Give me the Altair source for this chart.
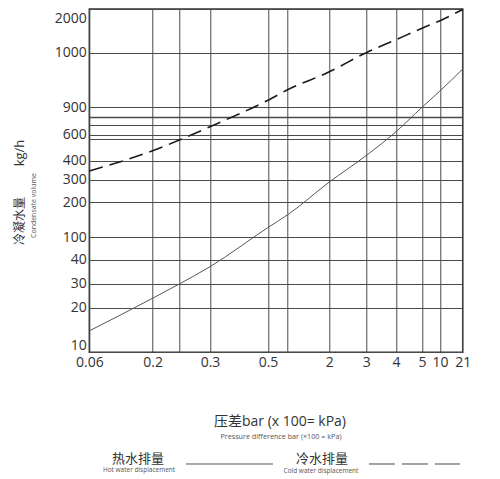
import altair as alt
import pandas as pd

# ---- data ----
x_ticks = [0.06, 0.2, 0.25, 0.3, 0.5, 1, 2, 3, 4, 5, 10, 21]
y_ticks = [10, 20, 30, 40, 100, 200, 300, 400, 500, 600, 700, 800, 900, 1000, 2000]
x_unlabeled = [0.25, 1]
y_unlabeled = [500, 700, 800]

pressure = [0.06, 0.2, 0.25, 0.3, 0.5, 1, 2, 3, 4, 5, 10, 21]
hot_water = [14.8, 24.0, 30, 37.2, 128, 164, 290, 424, 629, 900, 930, 970]
cold_water = [346, 446, 495, 682, 913, 932, 965, 1001, 1298, 1559, 1733, 1990]

# ---- piecewise scale layout (pixel positions of grid lines in the plot area) ----
X_RANGE = [0, 63.4, 90.0, 120.7, 178.7, 198.2, 240.0, 277.0, 306.7, 332.7, 350.7, 373.4]
Y_RANGE = [343.3, 298.7, 275.0, 251.0, 228.3, 193.3, 170.8, 151.7, 130.0, 125.5,
           116.0, 107.7, 98.3, 43.7, 0]
W, H = 373.4, 343.3

LATIN = "Open Sans"
CJK = "Noto Sans CJK SC"

df = pd.DataFrame({
    "p": pressure * 2,
    "q": hot_water + cold_water,
    "s": ["hot"] * len(pressure) + ["cold"] * len(pressure),
})

x_unl = ",".join(str(v) for v in x_unlabeled)
y_unl = ",".join(str(v) for v in y_unlabeled)

x_enc = alt.X(
    "p:Q",
    scale=alt.Scale(type="linear", domain=x_ticks, range=X_RANGE, nice=False, zero=False),
    axis=alt.Axis(
        values=x_ticks, title=None, grid=True, ticks=False, domain=False,
        gridColor="#4a4a4a", gridWidth=1, gridOpacity=1,
        labelExpr=f"indexof([{x_unl}], datum.value) >= 0 ? '' : '' + datum.value",
        labelFont=LATIN, labelFontSize=14, labelColor="#333", labelPadding=3,
        labelOverlap=False, labelFlush=False,
    ),
)
y_enc = alt.Y(
    "q:Q",
    scale=alt.Scale(type="linear", domain=y_ticks, range=Y_RANGE, nice=False, zero=False),
    axis=alt.Axis(
        values=y_ticks, title=None, grid=True, ticks=False, domain=False,
        gridColor="#4a4a4a", gridOpacity=1,
        gridWidth={"condition": {"test": "datum.value === 800", "value": 1.6}, "value": 1},
        labelExpr=f"indexof([{y_unl}], datum.value) >= 0 ? '' : '' + datum.value",
        labelFont=LATIN, labelFontSize=14, labelColor="#333", labelPadding=3,
        labelOverlap=False, labelFlush=True,
        labelOffset={"condition": {"test": "datum.value === 2000", "value": 2}, "value": 0},
    ),
)

hot = alt.Chart(df).transform_filter("datum.s == 'hot'").mark_line(
    interpolate="monotone", color="#555", strokeWidth=1
).encode(x=x_enc, y=y_enc)

cold = alt.Chart(df).transform_filter("datum.s == 'cold'").mark_line(
    interpolate="monotone", color="#1a1a1a", strokeWidth=1.6, strokeDash=[14, 7]
).encode(x=x_enc, y=y_enc)

one = pd.DataFrame({"a": [0]})


def txt(s, x, y, size, font, color="#333", angle=0):
    return alt.Chart(one).mark_text(
        text=s, fontSize=size, font=font, color=color, angle=angle,
        align="center", baseline="middle",
    ).encode(x=alt.value(x), y=alt.value(y))


texts = [
    txt("冷凝水量", -69.3, 212, 12, CJK, angle=270),
    txt("kg/h", -69.3, 144, 13, LATIN, angle=270),
    txt("Condensate volume", -55, 196.5, 7, LATIN, color="#555", angle=270),
    txt("压差bar (x 100= kPa)", 190.7, 413, 14, f"{LATIN}, {CJK}"),
    txt("Pressure difference bar (×100 = kPa)", 191.7, 428, 7.2, LATIN, color="#555"),
    txt("热水排量", 48.7, 450, 13, CJK),
    txt("Hot water displacement", 49.7, 461.5, 6.5, LATIN, color="#555"),
    txt("冷水排量", 232.7, 450, 13, CJK),
    txt("Cold water displacement", 231.7, 462, 6.5, LATIN, color="#555"),
]

leg_hot = alt.Chart(one).mark_rule(color="#555", strokeWidth=1).encode(
    x=alt.value(96.7), x2=alt.value(183.7), y=alt.value(455)
)
leg_cold = alt.Chart(one).mark_rule(color="#444", strokeWidth=1, strokeDash=[26, 7]).encode(
    x=alt.value(279.7), x2=alt.value(370.7), y=alt.value(455)
)

chart = alt.layer(hot, cold, leg_hot, leg_cold, *texts).properties(
    width=W, height=H,
    autosize=alt.AutoSizeParams(type="none"),
    padding={"left": 81.3, "top": 1, "right": 12, "bottom": 123.7},
).configure_view(stroke="#333", strokeWidth=1.5)

chart.save("out.html", embed_options={"renderer": "svg", "actions": False})
